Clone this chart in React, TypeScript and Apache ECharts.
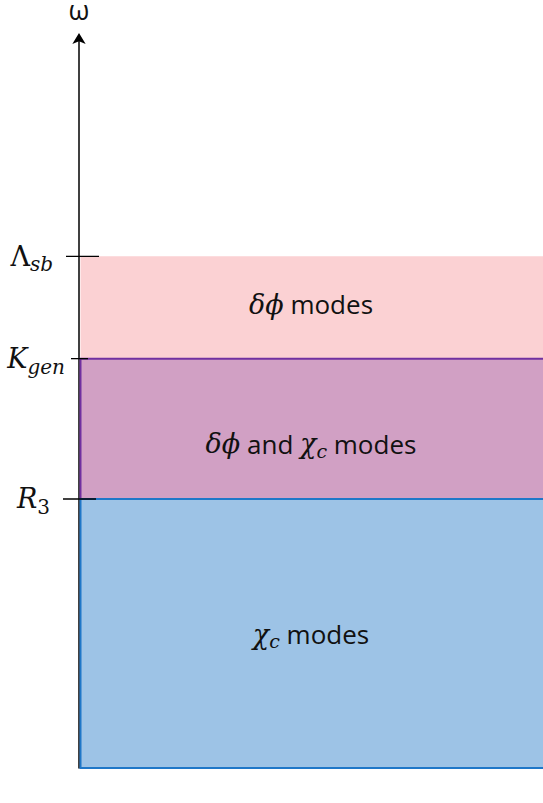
import React, { useEffect, useRef } from 'react';
import * as echarts from 'echarts';

// ---- data ----
const axisName = 'ω';
const bandLabels = ['{m|δϕ} modes', '{m|δϕ} and {m|χ}{s|c} modes', '{m|χ}{s|c} modes'];
const bandLow = [5.6, 3.68, 0];
const bandHigh = [7.0, 5.6, 3.68];
const boundaryValues = [7.0, 5.6, 3.68];
const boundaryLabels = ['{g|Λ}{sa|sb}', '{m|K}{s|gen}', '{m|R}{na|3}'];

// ---- styles ----
const bandFills = ['#FBD1D3', '#D1A0C4', '#9DC3E6'];
const bandStrokes = ['none', '#7030A0', '#1F77C8'];
const labelDy = [-3, 15, 1];
const tickLeft = [13, 8, 16];
const tickRight = [20, 9, 17];

const SERIF = '"DejaVu Serif", "Liberation Serif", serif';
const SANS = '"Open Sans", "Noto Sans", sans-serif';

const bandRich = {
  m: { fontFamily: SERIF, fontStyle: 'italic', fontSize: 27, color: '#111' },
  s: { fontFamily: SERIF, fontStyle: 'italic', fontSize: 19, color: '#111', padding: [14, 0, 0, 0] },
};

const axisRich = {
  g: { fontFamily: SERIF, fontSize: 27, color: '#111' },
  m: { fontFamily: SERIF, fontStyle: 'italic', fontSize: 27, color: '#111' },
  s: { fontFamily: SERIF, fontStyle: 'italic', fontSize: 20, color: '#111', padding: [16, 0, 0, 0] },
  sa: { fontFamily: SERIF, fontStyle: 'italic', fontSize: 20, color: '#111', padding: [16, 12, 0, 0] },
  na: { fontFamily: SERIF, fontSize: 20, color: '#111', padding: [16, 15, 0, 0] },
};

export default function App() {
  const ref = useRef<HTMLDivElement>(null);
  useEffect(() => {
    if (!ref.current) return;
    const chart = echarts.init(ref.current, undefined, { renderer: 'svg' });
    const data = bandLow.map((lo, i) => [lo, bandHigh[i], i]);
    chart.setOption({
      animation: false,
      grid: { left: 79, right: 0, top: 37, bottom: 35, containLabel: false, outerBoundsMode: 'none' },
      xAxis: { type: 'value', min: 0, max: 1, show: false },
      yAxis: {
        type: 'value',
        min: 0,
        max: 10,
        name: axisName,
        nameLocation: 'end',
        nameGap: 20,
        nameTextStyle: { fontFamily: SANS, fontSize: 27, lineHeight: 16, color: '#111' },
        splitLine: { show: false },
        axisTick: { show: false },
        axisLine: {
          show: true,
          symbol: ['none', 'arrow'],
          symbolSize: [10, 11],
          symbolOffset: [0, 4],
          lineStyle: { color: '#000', width: 1.5 },
        },
        axisLabel: {
          customValues: boundaryValues,
          margin: 14,
          formatter: (v: number) => {
            let best = 0;
            boundaryValues.forEach((b, i) => {
              if (Math.abs(b - v) < Math.abs(boundaryValues[best] - v)) best = i;
            });
            return boundaryLabels[best];
          },
          rich: axisRich,
        },
      },
      series: [
        {
          type: 'custom',
          data,
          renderItem: (params: any, api: any) => {
            const lo = api.value(0);
            const hi = api.value(1);
            const idx = api.value(2);
            const pTop = api.coord([0, hi]);
            const pBot = api.coord([1, lo]);
            const x0 = pTop[0];
            const right = pBot[0];
            const stroke = bandStrokes[idx];
            return {
              type: 'group',
              children: [
                {
                  type: 'rect',
                  shape: { x: x0 + 1.5, y: pTop[1], width: right - x0 + 10, height: pBot[1] - pTop[1] },
                  style: {
                    fill: bandFills[idx],
                    stroke: stroke === 'none' ? null : stroke,
                    lineWidth: 2,
                  },
                },
                {
                  type: 'line',
                  shape: { x1: x0 - tickLeft[idx], y1: pTop[1], x2: x0 + tickRight[idx], y2: pTop[1] },
                  style: { stroke: '#000', lineWidth: 1.3 },
                },
                {
                  type: 'text',
                  x: (x0 + right) / 2,
                  y: (pTop[1] + pBot[1]) / 2 + labelDy[idx],
                  style: {
                    text: bandLabels[idx],
                    align: 'center',
                    verticalAlign: 'middle',
                    fontFamily: SANS,
                    fontSize: 26,
                    fill: '#111',
                    rich: bandRich,
                  },
                },
              ],
            };
          },
        },
      ],
    });
    return () => chart.dispose();
  }, []);
  return (
    <div
      ref={ref}
      style={{ position: 'fixed', left: 0, top: 0, width: 543, height: 803, background: '#fff' }}
    />
  );
}
